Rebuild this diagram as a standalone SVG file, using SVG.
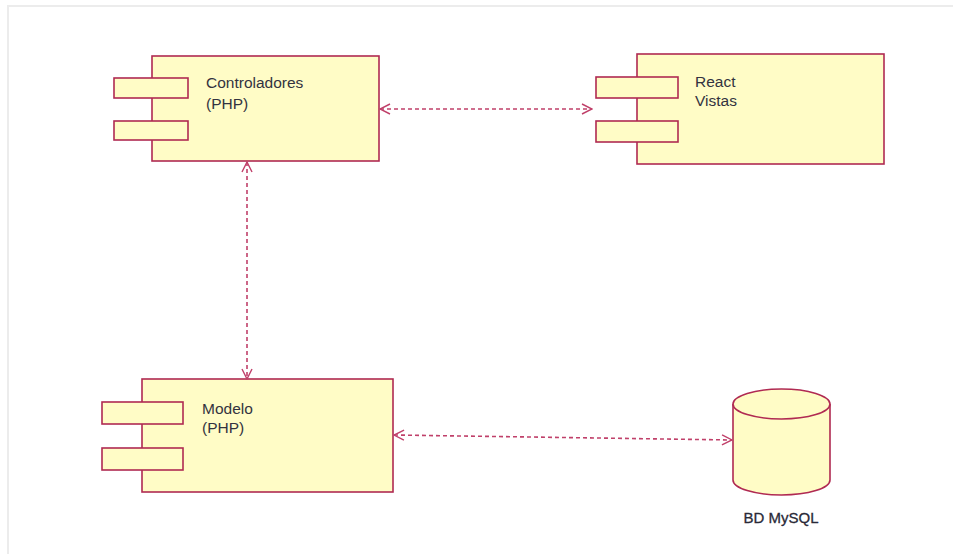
<svg xmlns="http://www.w3.org/2000/svg" width="953" height="554" viewBox="0 0 953 554">
<defs>
<style>
.box{fill:#fffcc6;stroke:#b02a52;stroke-width:1.6}
.lbl{font-family:"Liberation Sans",Arial,sans-serif;font-size:15.5px;fill:#333340}
.db{font-size:15px;fill:#2a2a38;stroke:#2a2a38;stroke-width:0.3}
.conn{fill:none;stroke:#c0406a;stroke-width:1.6;stroke-dasharray:4,3}
.frame{stroke:#ececec;stroke-width:2;fill:none}
</style>
<marker id="arr" viewBox="0 0 12 12" refX="11" refY="6" markerWidth="12" markerHeight="12" markerUnits="userSpaceOnUse" orient="auto-start-reverse">
<path d="M1,1 L11,6 L1,11" fill="none" stroke="#c0406a" stroke-width="1.4"/>
</marker>
</defs>
<rect width="953" height="554" fill="#ffffff"/>
<path class="frame" d="M8,554 L8,6 L953,6"/>
<g id="controladores">
<rect class="box" x="152" y="56" width="227" height="105"/>
<rect class="box" x="114" y="78" width="74" height="20"/>
<rect class="box" x="114" y="121" width="74" height="19"/>
<text class="lbl" x="206" y="88">Controladores</text>
<text class="lbl" x="206" y="109">(PHP)</text>
</g>
<g id="react">
<rect class="box" x="637" y="54" width="247" height="110"/>
<rect class="box" x="596" y="77" width="82" height="21"/>
<rect class="box" x="596" y="121" width="82" height="21"/>
<text class="lbl" x="695" y="87">React</text>
<text class="lbl" x="695" y="106">Vistas</text>
</g>
<g id="modelo">
<rect class="box" x="142" y="379" width="251" height="113"/>
<rect class="box" x="102" y="402" width="81" height="22"/>
<rect class="box" x="102" y="448" width="81" height="22"/>
<text class="lbl" x="202" y="414">Modelo</text>
<text class="lbl" x="202" y="433">(PHP)</text>
</g>
<g id="bd-mysql">
<path class="box" d="M733,404 L733,480 A48.5,15 0 0 0 830,480 L830,404"/>
<ellipse class="box" cx="781.5" cy="404" rx="48.5" ry="15"/>
<text class="lbl db" x="781" y="523" text-anchor="middle">BD MySQL</text>
</g>
<g id="connectors">
<line class="conn" x1="380" y1="109" x2="592" y2="109" marker-start="url(#arr)" marker-end="url(#arr)"/>
<line class="conn" x1="247" y1="162" x2="247" y2="379" marker-start="url(#arr)" marker-end="url(#arr)"/>
<line class="conn" x1="394" y1="435" x2="732" y2="440" marker-start="url(#arr)" marker-end="url(#arr)"/>
</g>
</svg>
